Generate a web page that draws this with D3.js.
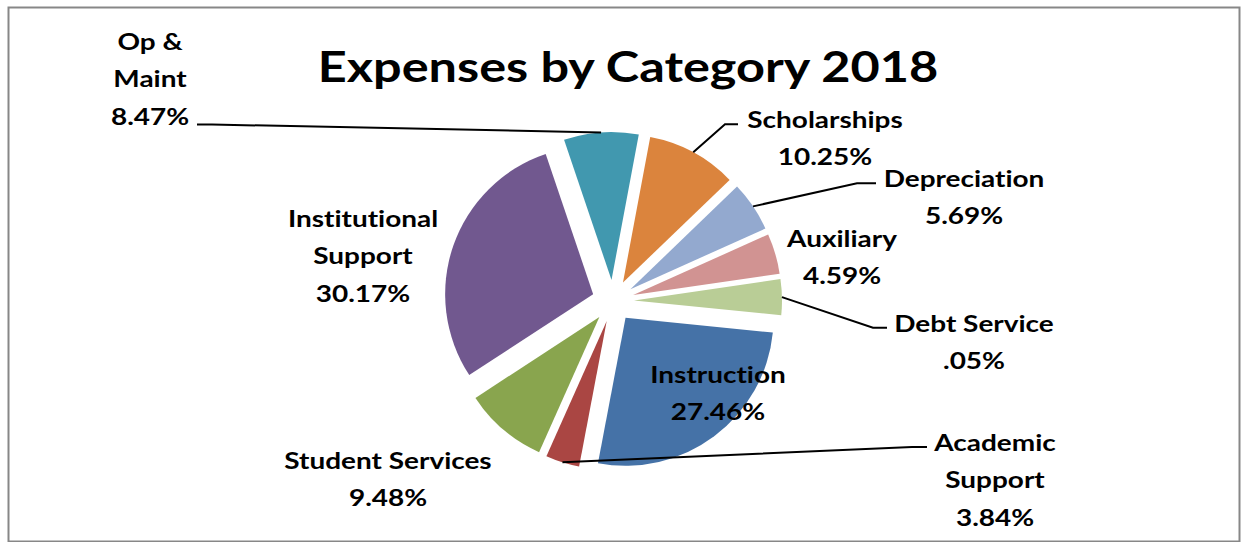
<!DOCTYPE html>
<html>
<head>
<meta charset="utf-8">
<script src="https://cdn.jsdelivr.net/npm/d3@7"></script>
<style>
  body { margin: 0; background: #fff; }
  text { font-family: Lato, "Open Sans", sans-serif; font-weight: bold; fill: #000;
         font-variant-ligatures: none; font-feature-settings: "liga" 0; }
</style>
</head>
<body>
<div id="chart"></div>
<script>
// data
const categories = ["Instruction", "Academic Support", "Student Services", "Institutional Support",
  "Op & Maint", "Scholarships", "Depreciation", "Auxiliary", "Debt Service"]
const values = [27.46, 3.84, 9.48, 30.17, 8.47, 10.25, 5.69, 4.59, 4.05]
const pctLabels = ["27.46%", "3.84%", "9.48%", "30.17%", "8.47%", "10.25%", "5.69%", "4.59%", ".05%"]
const nameLines = [["Instruction"], ["Academic", "Support"], ["Student Services"], ["Institutional", "Support"],
  ["Op &", "Maint"], ["Scholarships"], ["Depreciation"], ["Auxiliary"], ["Debt Service"]]
const colors = ["#4572A7", "#AA4643", "#89A54E", "#71588F", "#4198AF", "#DB843D", "#93A9CF", "#D19392", "#B9CD96"]

const W = 1241, H = 542
const CX = 613, CY = 301, R = 148, EXPLODE = 21
const LINE_H = 37.5
const SX = 1.2   // text looks stretched sideways in the original

// where each label sits: centre x, first baseline, leader line (elbow x, end x, y) or null
const labelPos = [
  {x: 718, y: 383, leader: null},
  {x: 995, y: 451, leader: [912, 927, 447]},
  {x: 388, y: 469, leader: null},
  {x: 363, y: 227, leader: null},
  {x: 150, y: 50, leader: [212, 197, 124.5]},
  {x: 825, y: 128, leader: [725, 738, 124.3]},
  {x: 964, y: 187, leader: [857, 876, 183.3]},
  {x: 842, y: 247, leader: null},
  {x: 974, y: 332, leader: [873, 887, 327.7]}
]

const svg = d3.select("#chart").append("svg")
  .attr("width", W)
  .attr("height", H)

// chart border
svg.append("rect")
  .attr("x", 8.5).attr("y", 7.5)
  .attr("width", 1231).attr("height", 534)
  .attr("fill", "none")
  .attr("stroke", "#878787")
  .attr("stroke-width", 2)

// Title
svg.append("text")
  .attr("transform", `translate(628, 82) scale(${SX},1)`)
  .attr("text-anchor", "middle")
  .attr("font-size", "42px")
  .text("Expenses by Category 2018")

const start = 95.7 * Math.PI / 180
const pie = d3.pie().sort(null).value(d => d)
  .startAngle(start).endAngle(start + 2 * Math.PI)
const arcs = pie(values)

const arc = d3.arc().innerRadius(0).outerRadius(R)

const g = svg.append("g")
  .attr("transform", `translate(${CX}, ${CY})`)

function offset(a, dist) {
  const m = (a.startAngle + a.endAngle) / 2
  return [dist * Math.sin(m), -dist * Math.cos(m)]
}

g.selectAll("path")
  .data(arcs)
  .enter().append("path")
    .attr("transform", d => `translate(${offset(d, EXPLODE)})`)
    .attr("d", arc)
    .attr("fill", (d, i) => colors[i])

// leader lines
arcs.forEach(function(a, i) {
  const p = labelPos[i]
  if (!p.leader) return
  const o = offset(a, EXPLODE + R)
  const pts = [[CX + o[0], CY + o[1]], [p.leader[0], p.leader[2]], [p.leader[1], p.leader[2]]]
  svg.append("path")
    .attr("d", d3.line()(pts))
    .attr("fill", "none")
    .attr("stroke", "#000")
    .attr("stroke-width", 2)
})

// labels
categories.forEach(function(c, i) {
  const p = labelPos[i]
  const lines = nameLines[i].concat([pctLabels[i]])
  const t = svg.append("text")
    .attr("transform", `translate(${p.x}, ${p.y}) scale(${SX},1)`)
    .attr("text-anchor", "middle")
    .attr("font-size", "23.3px")
  lines.forEach(function(l, k) {
    t.append("tspan").attr("x", 0).attr("y", k * LINE_H).text(l)
  })
})
</script>
</body>
</html>
